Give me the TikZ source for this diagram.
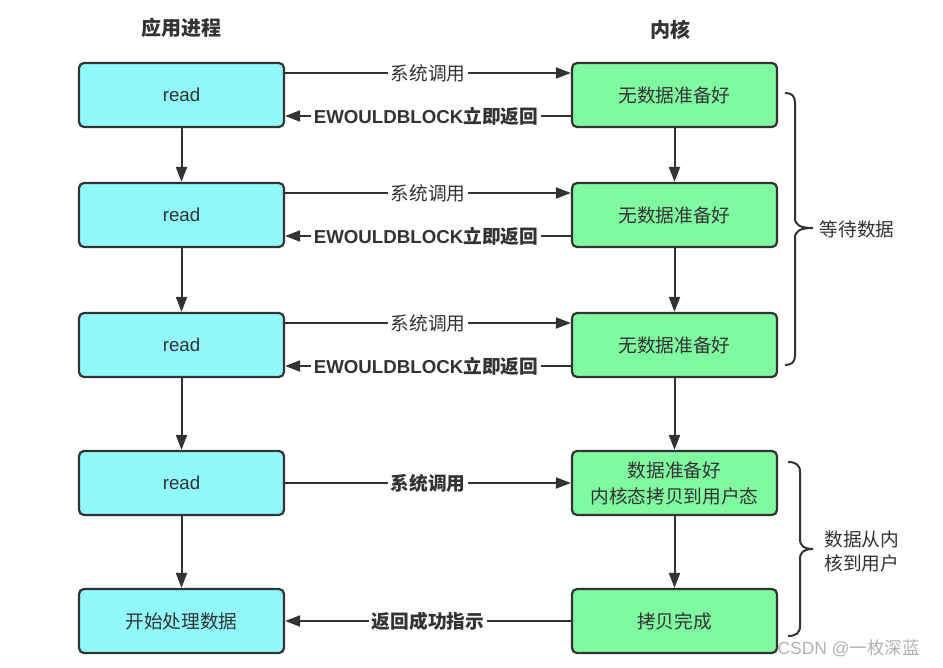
\documentclass[tikz,border=0pt]{standalone}
\usepackage{fontspec}
\setmainfont{Noto Sans CJK SC}
\newfontfamily\lat{Liberation Sans}
\usetikzlibrary{arrows.meta}
\definecolor{cyanbox}{HTML}{91FAFC}
\definecolor{greenbox}{HTML}{80FAA0}
\definecolor{ink}{HTML}{333333}
\begin{document}
\begin{tikzpicture}[x=1pt,y=-1pt,
  box/.style={draw=ink, line width=2.2pt, rounded corners=5pt, minimum width=205pt, minimum height=64pt, text=ink, font=\fontsize{18.7}{22}\selectfont, align=center},
  appbox/.style={box, fill=cyanbox},
  kbox/.style={box, fill=greenbox},
  conn/.style={draw=ink, line width=2pt, -{Triangle[length=15pt,width=11pt]}},
  lbl/.style={fill=white, text=ink, inner sep=3pt, font=\fontsize{18.7}{22}\selectfont},
  blbl/.style={lbl, font=\fontsize{18.7}{22}\selectfont\bfseries},
  hdr/.style={text=ink, font=\fontsize{20}{23}\selectfont\bfseries},
  brace/.style={draw=ink, line width=2pt},
  side/.style={text=ink, font=\fontsize{18.7}{24}\selectfont, align=left}
]
\useasboundingbox (0,0) rectangle (943,668);
\fill[white] (0,0) rectangle (943,668);

\node[hdr] (h1) at (181,28) {应用进程};
\node[hdr] (h2) at (670,30) {内核};

\node[appbox] (a1) at (181.5,95) {\lat read};
\node[appbox] (a2) at (181.5,215) {\lat read};
\node[appbox] (a3) at (181.5,345) {\lat read};
\node[appbox] (a4) at (181.5,483) {\lat read};
\node[appbox] (a5) at (181.5,621) {开始处理数据};

\node[kbox] (k1) at (674.5,95) {无数据准备好};
\node[kbox] (k2) at (674.5,215) {无数据准备好};
\node[kbox] (k3) at (674.5,345) {无数据准备好};
\node[kbox] (k4) at (674.5,483) {数据准备好\\[4pt]内核态拷贝到用户态};
\node[kbox] (k5) at (674.5,621) {拷贝完成};

\foreach \i/\j in {1/2,2/3,3/4,4/5}{
  \draw[conn] (a\i) -- (a\j);
  \draw[conn] (k\i) -- (k\j);
}

\foreach \i in {1,2,3}{
  \draw[conn] ([yshift=22pt]a\i.east) -- node[lbl]{系统调用} ([yshift=22pt]k\i.west);
  \draw[conn] ([yshift=-21pt]k\i.west) -- node[blbl, xshift=-2pt]{{\lat\bfseries EWOULDBLOCK}立即返回} ([yshift=-21pt]a\i.east);
}
\draw[conn] (a4) -- node[blbl]{系统调用} (k4);
\draw[conn] (k5) -- node[blbl]{返回成功指示} (a5);

\draw[brace] (785,93) .. controls (792,93) and (795,96) .. (795,103) -- (795,218)
  .. controls (795,225) and (800,228) .. (813,228)
  .. controls (800,228) and (795,231) .. (795,238) -- (795,355)
  .. controls (795,362) and (792,365) .. (785,365);
\node[side] (w1) at (857,229) {等待数据};

\draw[brace] (788,462) .. controls (796,462) and (800,465) .. (800,472) -- (800,539)
  .. controls (800,546) and (804,549) .. (813,549)
  .. controls (804,549) and (800,552) .. (800,559) -- (800,626)
  .. controls (800,633) and (796,636) .. (788,636);
\node[side, anchor=west] (w2) at (821,551) {数据从内\\核到用户};

\node[text=black!30, anchor=west, font=\fontsize{17.5}{19}\selectfont] (wm) at (774,648) {{\lat CSDN @}一枚深蓝};
\end{tikzpicture}
\end{document}
